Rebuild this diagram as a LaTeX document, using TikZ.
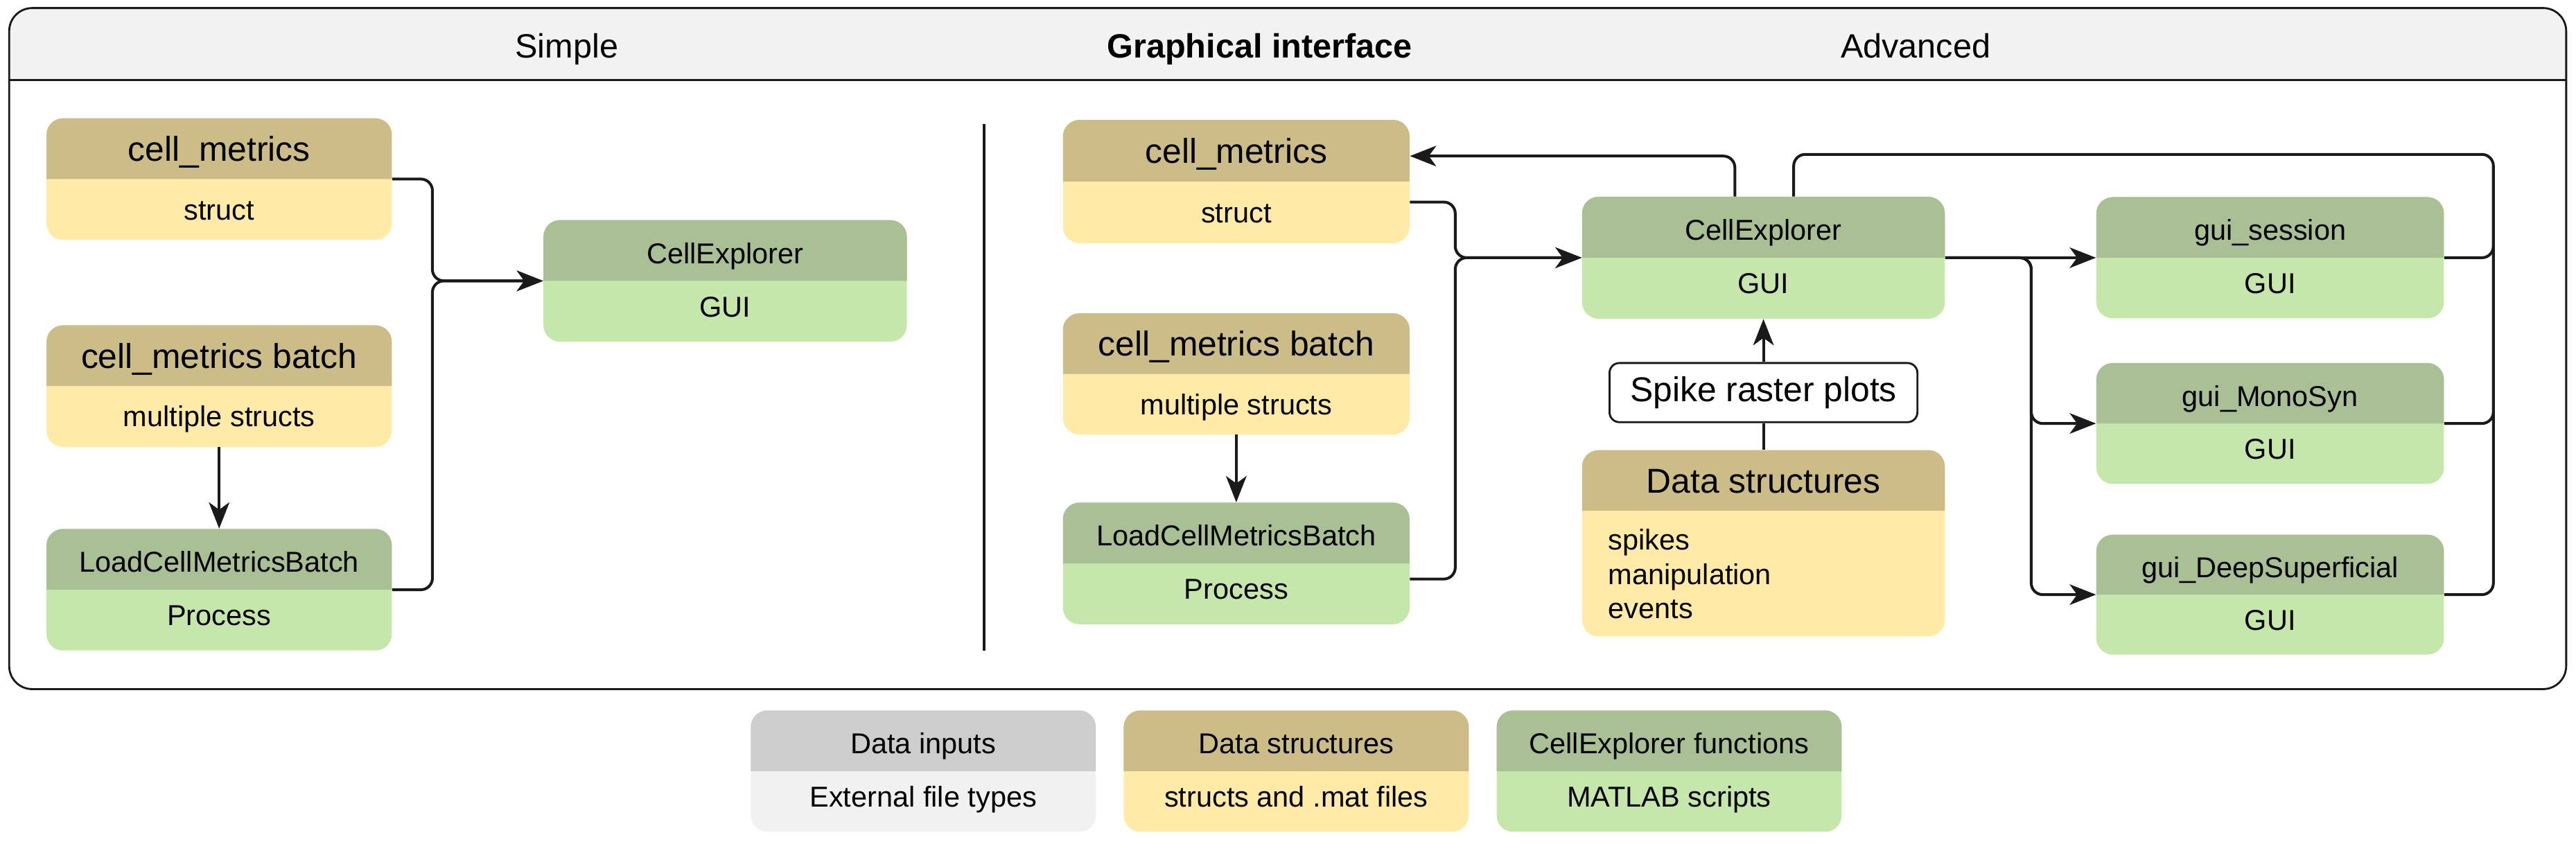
\documentclass[tikz,border=0pt]{standalone}
\usepackage{fontspec}
\setmainfont{Liberation Sans}
\usetikzlibrary{arrows.meta,fit}
\definecolor{dshdr}{HTML}{CCBD88}
\definecolor{dsbody}{HTML}{FFEAA7}
\definecolor{fnhdr}{HTML}{A9C094}
\definecolor{fnbody}{HTML}{C6E7AB}
\definecolor{inhdr}{HTML}{CDCDCD}
\definecolor{inbody}{HTML}{F1F1F1}
\definecolor{band}{HTML}{F2F2F2}
\definecolor{ink}{HTML}{1A1A1A}
\newcommand{\bodyfont}{\fontsize{17.5}{21}\selectfont}
\def\hsh{0}\def\bsh{0}
% #1 name, #2 x1, #3 y1, #4 x2, #5 y2, #6 colour prefix, #7 header, #8 body, #9 header size
\newcommand{\tbox}[9]{%
  \fill[#6body, rounded corners=10pt] (#2,#3) rectangle (#4,#5);
  \fill[#6hdr] (#2,{(#3+#5)/2}) [rounded corners=10pt] -- (#2,#3) -- (#4,#3) [sharp corners] -- (#4,{(#3+#5)/2}) -- cycle;
  \node[fit={(#2,#3) (#4,#5)}, inner sep=0pt] (#1) {};
  \node[anchor=base, inner sep=0pt, font=\fontsize{#9}{#9}\selectfont] (#1-h) at ({(#2+#4)/2},{(3*#3+#5)/4+0.36*#9+\hsh}) {#7};
  \node[anchor=base, inner sep=0pt, font=\bodyfont] (#1-b) at ({(#2+#4)/2},{(#3+3*#5)/4+6.3+\bsh}) {#8};
}
\begin{document}
\begin{tikzpicture}[x=1pt,y=-1pt,
  conn/.style={ink, line width=1.7pt, rounded corners=7pt, -{Stealth[length=16pt,width=12.5pt,inset=4.5pt]}},
  plain/.style={ink, line width=1.7pt, rounded corners=7pt},
  raster/.style={draw=ink, line width=1.2pt, rounded corners=6pt, fill=white, minimum width=187.4pt, minimum height=36pt, inner sep=0pt, font=\fontsize{21}{21}\selectfont},
  title/.style={anchor=base, inner sep=0pt, font=\fontsize{20.5}{24}\selectfont}]
\useasboundingbox (0,0) rectangle (1568,513.8);
% outer frame
\fill[band] (5.6,48.7) [rounded corners=14pt] -- (5.6,4.9) -- (1562,4.9) [sharp corners] -- (1562,48.7) -- cycle;
\draw[ink, line width=1.2pt, rounded corners=14pt] (5.6,4.9) rectangle (1562,419.5);
\node[fit={(5.6,4.9) (1562,419.5)}, inner sep=0pt] (frame) {};
\draw[ink, line width=1.2pt] (frame.west |- 0,48.7) -- (frame.east |- 0,48.7);
\node[title] (tsimple) at (345,35.3) {Simple};
\node[title, font=\fontsize{20.5}{24}\selectfont\bfseries] (tgui) at (766.7,35.3) {Graphical interface};
\node[title] (tadv) at (1166,35.3) {Advanced};
% separator
\coordinate (sep1) at (599,75.7);
\coordinate (sep2) at (599,396);
\draw[ink, line width=1.3pt] (sep1) -- (sep2);
% data structure boxes (text centred)
\def\hsh{0}\def\bsh{0}
\tbox{sm}{28.3}{72}{238.5}{146}{ds}{cell\_metrics}{struct}{21}
\tbox{sb}{28.3}{198}{238.5}{272}{ds}{cell\_metrics batch}{multiple structs}{21}
\tbox{am}{647}{73}{858}{148}{ds}{cell\_metrics}{struct}{21}
\tbox{ab}{647}{190.7}{858}{264.5}{ds}{cell\_metrics batch}{multiple structs}{21}
% function boxes (text slightly shifted)
\def\hsh{1.5}\def\bsh{-3}
\tbox{sl}{28.3}{322}{238.5}{396}{fn}{LoadCellMetricsBatch}{Process}{17.5}
\tbox{sc}{330.8}{134}{552}{208}{fn}{CellExplorer}{GUI}{17.5}
\tbox{al}{647}{306}{858}{380}{fn}{LoadCellMetricsBatch}{Process}{17.5}
\tbox{ace}{963}{119.8}{1183.8}{194}{fn}{CellExplorer}{GUI}{17.5}
\tbox{gs}{1276}{120}{1487.6}{193.8}{fn}{gui\_session}{GUI}{17.5}
\tbox{gm}{1276}{221}{1487.6}{294.6}{fn}{gui\_MonoSyn}{GUI}{17.5}
\tbox{gd}{1276}{325.5}{1487.6}{398.5}{fn}{gui\_DeepSuperficial}{GUI}{17.5}
% data structures (advanced)
\fill[dsbody, rounded corners=10pt] (963,274) rectangle (1183.8,387.4);
\fill[dshdr] (963,311) [rounded corners=10pt] -- (963,274) -- (1183.8,274) [sharp corners] -- (1183.8,311) -- cycle;
\node[fit={(963,274) (1183.8,387.4)}, inner sep=0pt] (ads) {};
\node[anchor=base, inner sep=0pt, font=\fontsize{21}{21}\selectfont] (ads-h) at (1073.4,300) {Data structures};
\node[anchor=base west, inner sep=0pt, font=\bodyfont] (ads-1) at (978.8,334.6) {spikes};
\node[anchor=base west, inner sep=0pt, font=\bodyfont] (ads-2) at (978.8,355.7) {manipulation};
\node[anchor=base west, inner sep=0pt, font=\bodyfont] (ads-3) at (978.8,376.5) {events};
\node[raster] (asr) at (1073.4,239) {Spike raster plots};
% legend
\tbox{li}{457}{432.5}{667}{506.4}{in}{Data inputs}{External file types}{17.5}
\tbox{ld}{684}{432.5}{894}{506.4}{ds}{Data structures}{structs and .mat files}{17.5}
\tbox{lc}{911}{432.5}{1121}{506.4}{fn}{CellExplorer functions}{MATLAB scripts}{17.5}
% connectors simple
\draw[conn] (sm.east) -- ++(24.5,0) |- (sc.west);
\draw[conn] (sl.east) -- ++(24.5,0) |- (sc.west);
\draw[conn] (sb.south) -- (sl.north);
% connectors advanced
\draw[conn] (ab.south) -- (al.north);
\draw[conn] (ace.north -| 1056,0) |- (am.east |- 0,95);
\draw[conn] (am.east |- 0,123) -- (885.8,123) |- (ace.west);
\draw[conn] (al.east |- 0,352.5) -- (885.8,352.5) |- (ace.west);
\draw[plain] (ads.north) -- (asr.south);
\draw[conn] (asr.north) -- (ace.south);
\draw[conn] (ace.east) -- (gs.west);
\draw[conn] (ace.east) -- (1236.4,156.9) |- (gm.west);
\draw[conn] (ace.east) -- (1236.4,156.9) |- (gd.west);
\draw[plain] (gs.east) -- (1517.7,156.9) |- (1091.8,94) -- (ace.north -| 1091.8,0);
\draw[plain] (gm.east) -- (1517.7,257.8) -- (1517.7,101);
\draw[plain] (gd.east) -- (1517.7,362) -- (1517.7,101);
\end{tikzpicture}
\end{document}
